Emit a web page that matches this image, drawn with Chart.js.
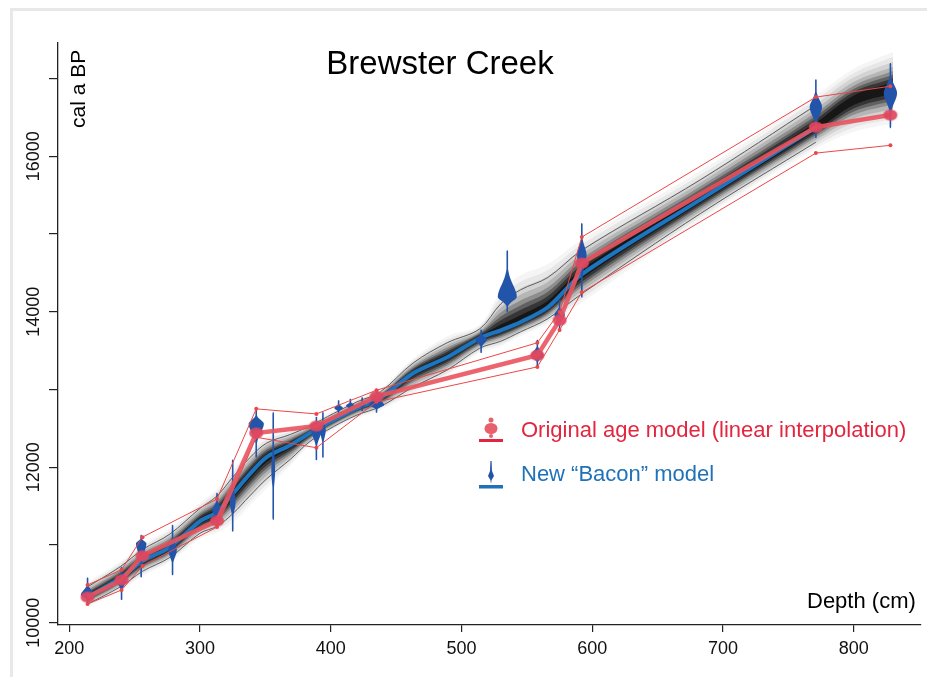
<!DOCTYPE html>
<html>
<head>
<meta charset="utf-8">
<title>Brewster Creek</title>
<script src="https://cdn.jsdelivr.net/npm/chart.js@4.4.1/dist/chart.umd.min.js"></script>
<style>
  body { margin: 0; background: #fff; overflow: hidden; font-family: "Liberation Sans", Arial, sans-serif; }
  #wrap { position: relative; width: 927px; height: 677px; overflow: hidden; }
  #frame { position: absolute; left: 10px; top: 8px; width: 940px; height: 700px; border: 3px solid #e8e8e8; }
  #chart { position: absolute; left: 0; top: 0; }
  .txt { position: absolute; white-space: nowrap; line-height: 1; }
  #legendIcons { position: absolute; left: 0; top: 0; }
</style>
</head>
<body>
<div id="wrap">
  <div id="frame"></div>
  <canvas id="chart" width="927" height="677"></canvas>
  <div class="txt" style="left:440px; top:46px; font-size:33px; color:#000; transform:translateX(-50%);">Brewster Creek</div>
  <div class="txt" style="left:67px; top:128px; font-size:21px; color:#000; transform-origin:0 0; transform:rotate(-90deg);">cal a BP</div>
  <div class="txt" style="left:807px; top:590px; font-size:22px; color:#000;">Depth (cm)</div>
  <div class="txt" style="left:521px; top:419px; font-size:22px; color:#e3263f;">Original age model (linear interpolation)</div>
  <div class="txt" style="left:521px; top:463px; font-size:22px; color:#1f72b8;">New “Bacon” model</div>
  <svg id="legendIcons" width="927" height="677">
    <circle cx="491" cy="420" r="2.5" fill="#e8606c"/>
    <ellipse cx="491" cy="428.5" rx="6.5" ry="5.5" fill="#e8606c"/>
    <circle cx="491" cy="436" r="2" fill="#e8606c"/>
    <rect x="479" y="439" width="24" height="3" fill="#e3263f"/>
    <path d="M490.4 461 L491.6 461 L492 471 L494 476 L491.6 480 L491.2 483 L490.8 483 L490.4 480 L488 476 L490 471 Z" fill="#2255aa"/>
    <rect x="479" y="485" width="24" height="3.5" fill="#1f72b8"/>
  </svg>
</div>
<script>
// Axis ticks
const xTickValues = [200, 300, 400, 500, 600, 700, 800];
const yTickValues = [10000, 11000, 12000, 13000, 14000, 15000, 16000, 17000];
const yLabelValues = [10000, 12000, 14000, 16000];

// Original age model (linear interpolation): depth (cm), age and its error bounds (cal a BP)
const origDepth = [214, 240, 256, 313, 343, 389, 435, 558, 575, 592, 771, 828];
const origAge = [10330, 10550, 10860, 11310, 12440, 12530, 12910, 13440, 13890, 14625, 16375, 16530];
const origUpper = [10485, 10680, 11100, 11590, 12750, 12685, 12990, 13600, 13995, 14960, 16760, 16900];
const origLower = [10240, 10420, 10730, 11230, 12385, 12250, 12840, 13290, 13765, 14250, 16040, 16140];

// Bacon model: mean age and 95% range
const modelDepth = [214, 239, 256, 277, 300, 313, 325, 338, 351, 369, 384, 402, 420, 438, 463, 489, 514, 530, 545, 566, 592, 683, 771];
const modelMean = [10330, 10574, 10793, 10973, 11307, 11423, 11654, 11911, 12129, 12283, 12438, 12605, 12759, 12887, 13209, 13414, 13659, 13761, 13864, 14057, 14481, 15445, 16370];
const modelUpper = [10460, 10720, 10940, 11140, 11470, 11630, 11870, 12120, 12310, 12420, 12530, 12690, 12840, 12970, 13340, 13600, 13780, 14100, 14280, 14440, 14790, 15700, 16655];
const modelLower = [10240, 10460, 10660, 10840, 11150, 11240, 11400, 11630, 11850, 12100, 12330, 12520, 12670, 12780, 13030, 13250, 13530, 13620, 13740, 13910, 14230, 15265, 16180];
// the age-depth density keeps going below the last modelled depth
const tailDepth = [800, 830];
const tailMean = [16720, 16880];
const tailUpper = [17000, 17200];
const tailLower = [16440, 16560];

// Calibrated dates (violins): depth, lower age, mode, upper age, relative peak density
const dateDepth = [214, 240, 255, 279, 313, 325, 343, 356, 389, 394, 406, 415, 424, 435, 515, 535, 558, 575, 592, 771, 828];
const dateLow = [10230, 10290, 10580, 10610, 11230, 11170, 12120, 11320, 12090, 12120, 12680, 12700, 12720, 12700, 13470, 13990, 13280, 13740, 14180, 16230, 16360];
const dateMode = [10360, 10550, 11020, 10930, 11450, 11540, 12560, 11960, 12480, 12480, 12760, 12790, 12800, 12800, 13640, 14190, 13440, 13960, 14730, 16630, 16810];
const dateHigh = [10580, 10720, 11130, 11260, 11670, 12100, 12740, 12710, 12650, 12710, 12860, 12880, 12900, 12990, 13770, 14790, 13640, 14150, 15140, 16990, 17200];
const dateDensity = [0.7, 0.5, 0.55, 0.45, 0.5, 0.3, 0.8, 0.2, 0.55, 0.3, 0.45, 0.45, 0.35, 0.8, 0.6, 1.0, 0.65, 0.55, 0.5, 0.65, 0.7];

const RED = "rgba(234, 84, 94, 0.9)";
const RED_THIN = "rgb(236, 70, 72)";
const RED_DOT = "rgba(222, 72, 96, 0.92)";
const BLUE = "rgb(28, 117, 190)";
const VIOLIN = "rgb(34, 85, 170)";

function points(xs, ys) {
  return xs.map((x, i) => ({ x: x, y: ys[i] }));
}

// Helper to make the oval marker used for the original dates
function ellipseMarker(rx, ry, color) {
  const c = document.createElement("canvas");
  c.width = rx * 2 + 2;
  c.height = ry * 2 + 2;
  const g = c.getContext("2d");
  g.fillStyle = color;
  g.beginPath();
  g.ellipse(rx + 1, ry + 1, rx, ry, 0, 0, Math.PI * 2);
  g.fill();
  return c;
}

const datasets = [];

// Density shading: nested translucent bands around the mean
const shadeDepth = modelDepth.concat(tailDepth);
const shadeMean = modelMean.concat(tailMean);
const shadeUpper = modelUpper.concat(tailUpper);
const shadeLower = modelLower.concat(tailLower);
const shadeLevels = [[1.45, 0.04], [1.25, 0.06], [1.05, 0.09], [0.85, 0.14], [0.67, 0.22], [0.52, 0.32], [0.38, 0.45], [0.22, 0.6]];
shadeLevels.forEach(([f, a]) => {
  datasets.push({
    label: "shade",
    data: shadeDepth.map((d, i) => ({ x: d, y: shadeMean[i] + f * (shadeUpper[i] - shadeMean[i]) })),
    fill: "+1",
    backgroundColor: `rgba(0,0,0,${a})`,
    borderColor: "transparent",
    borderWidth: 0,
    pointRadius: 0,
    tension: 0.35,
    order: 10,
  });
  datasets.push({
    label: "shade",
    data: shadeDepth.map((d, i) => ({ x: d, y: shadeMean[i] - f * (shadeMean[i] - shadeLower[i]) })),
    fill: false,
    borderColor: "transparent",
    borderWidth: 0,
    pointRadius: 0,
    tension: 0.35,
    order: 10,
  });
});

// 95% range lines
[modelUpper, modelLower].forEach((arr) => {
  datasets.push({
    label: "range",
    data: points(modelDepth, arr),
    borderColor: "rgb(95,95,95)",
    borderWidth: 1,
    pointRadius: 0,
    tension: 0.35,
    fill: false,
    order: 5,
  });
});

// Bacon mean
datasets.push({
  label: "Bacon mean",
  data: points(modelDepth, modelMean),
  borderColor: BLUE,
  borderWidth: 4,
  borderCapStyle: "round",
  pointRadius: 0,
  tension: 0.3,
  fill: false,
  order: 4,
});

// Original model error bounds
[origUpper, origLower].forEach((arr) => {
  datasets.push({
    label: "orig bound",
    data: points(origDepth, arr),
    borderColor: RED_THIN,
    borderWidth: 1,
    pointRadius: 2,
    pointBackgroundColor: RED_THIN,
    pointBorderWidth: 0,
    tension: 0,
    fill: false,
    order: 3,
  });
});

// Original model
datasets.push({
  label: "Original age model",
  data: points(origDepth, origAge),
  borderColor: RED,
  borderWidth: 4.5,
  pointStyle: ellipseMarker(7, 5.5, RED_DOT),
  pointRadius: 7,
  tension: 0,
  fill: false,
  order: 2,
});

// Draws the calibrated date distributions as vertical violins
const violinPlugin = {
  id: "violins",
  afterDatasetDraw(chart, args) {
    if (chart.data.datasets[args.index].label !== "Bacon mean") return;
    const { ctx, chartArea, scales } = chart;
    ctx.save();
    ctx.beginPath();
    ctx.rect(chartArea.left, chartArea.top, chartArea.right - chartArea.left, chartArea.bottom - chartArea.top);
    ctx.clip();
    ctx.fillStyle = VIOLIN;
    const N = 60;
    dateDepth.forEach((d, i) => {
      const cx = scales.x.getPixelForValue(d);
      const lo = dateLow[i], mo = dateMode[i], hi = dateHigh[i];
      const W = 9.5 * dateDensity[i];
      const side = [];
      for (let k = 0; k <= N; k++) {
        const a = lo + ((hi - lo) * k) / N;
        const t = a < mo ? (mo - a) / (mo - lo) : (a - mo) / (hi - mo);
        let w = Math.max(0.8, W * Math.exp(-Math.pow(2.7 * t, 1.9)));
        if (k === 0 || k === N) w = 0.3;
        side.push([w, scales.y.getPixelForValue(a)]);
      }
      ctx.beginPath();
      side.forEach(([w, py], k) => (k === 0 ? ctx.moveTo(cx + w, py) : ctx.lineTo(cx + w, py)));
      for (let k = side.length - 1; k >= 0; k--) ctx.lineTo(cx - side[k][0], side[k][1]);
      ctx.closePath();
      ctx.fill();
    });
    ctx.restore();
  },
};

new Chart(document.getElementById("chart"), {
  type: "line",
  data: { datasets: datasets },
  plugins: [violinPlugin],
  options: {
    responsive: false,
    animation: false,
    layout: { autoPadding: false, padding: { top: 43, right: 6, left: 0, bottom: 0 } },
    plugins: { legend: { display: false }, tooltip: { enabled: false } },
    scales: {
      x: {
        type: "linear",
        min: 191.4,
        max: 851.4,
        afterBuildTicks: (s) => { s.ticks = xTickValues.map((v) => ({ value: v })); },
        afterFit: (s) => { s.height = 52; },
        border: { display: true, color: "#222", width: 1.3 },
        grid: { drawOnChartArea: false, drawTicks: true, tickLength: 7, color: "#222", lineWidth: 1.2 },
        ticks: {
          color: "#111",
          font: { family: "'Liberation Sans', Arial, sans-serif", size: 18 },
          padding: 6,
          maxRotation: 0,
          callback: (v) => String(v),
        },
      },
      y: {
        type: "linear",
        min: 9970,
        max: 17456,
        afterBuildTicks: (s) => { s.ticks = yTickValues.map((v) => ({ value: v })); },
        afterFit: (s) => { s.width = 58; },
        border: { display: true, color: "#222", width: 1.3 },
        grid: { drawOnChartArea: false, drawTicks: true, tickLength: 9, color: "#222", lineWidth: 1.2 },
        ticks: {
          color: "#111",
          font: { family: "'Liberation Sans', Arial, sans-serif", size: 18 },
          minRotation: 90,
          maxRotation: 90,
          crossAlign: "center",
          padding: -10,
          callback: (v) => (yLabelValues.includes(v) ? String(v) : ""),
        },
      },
    },
  },
});
</script>
</body>
</html>
